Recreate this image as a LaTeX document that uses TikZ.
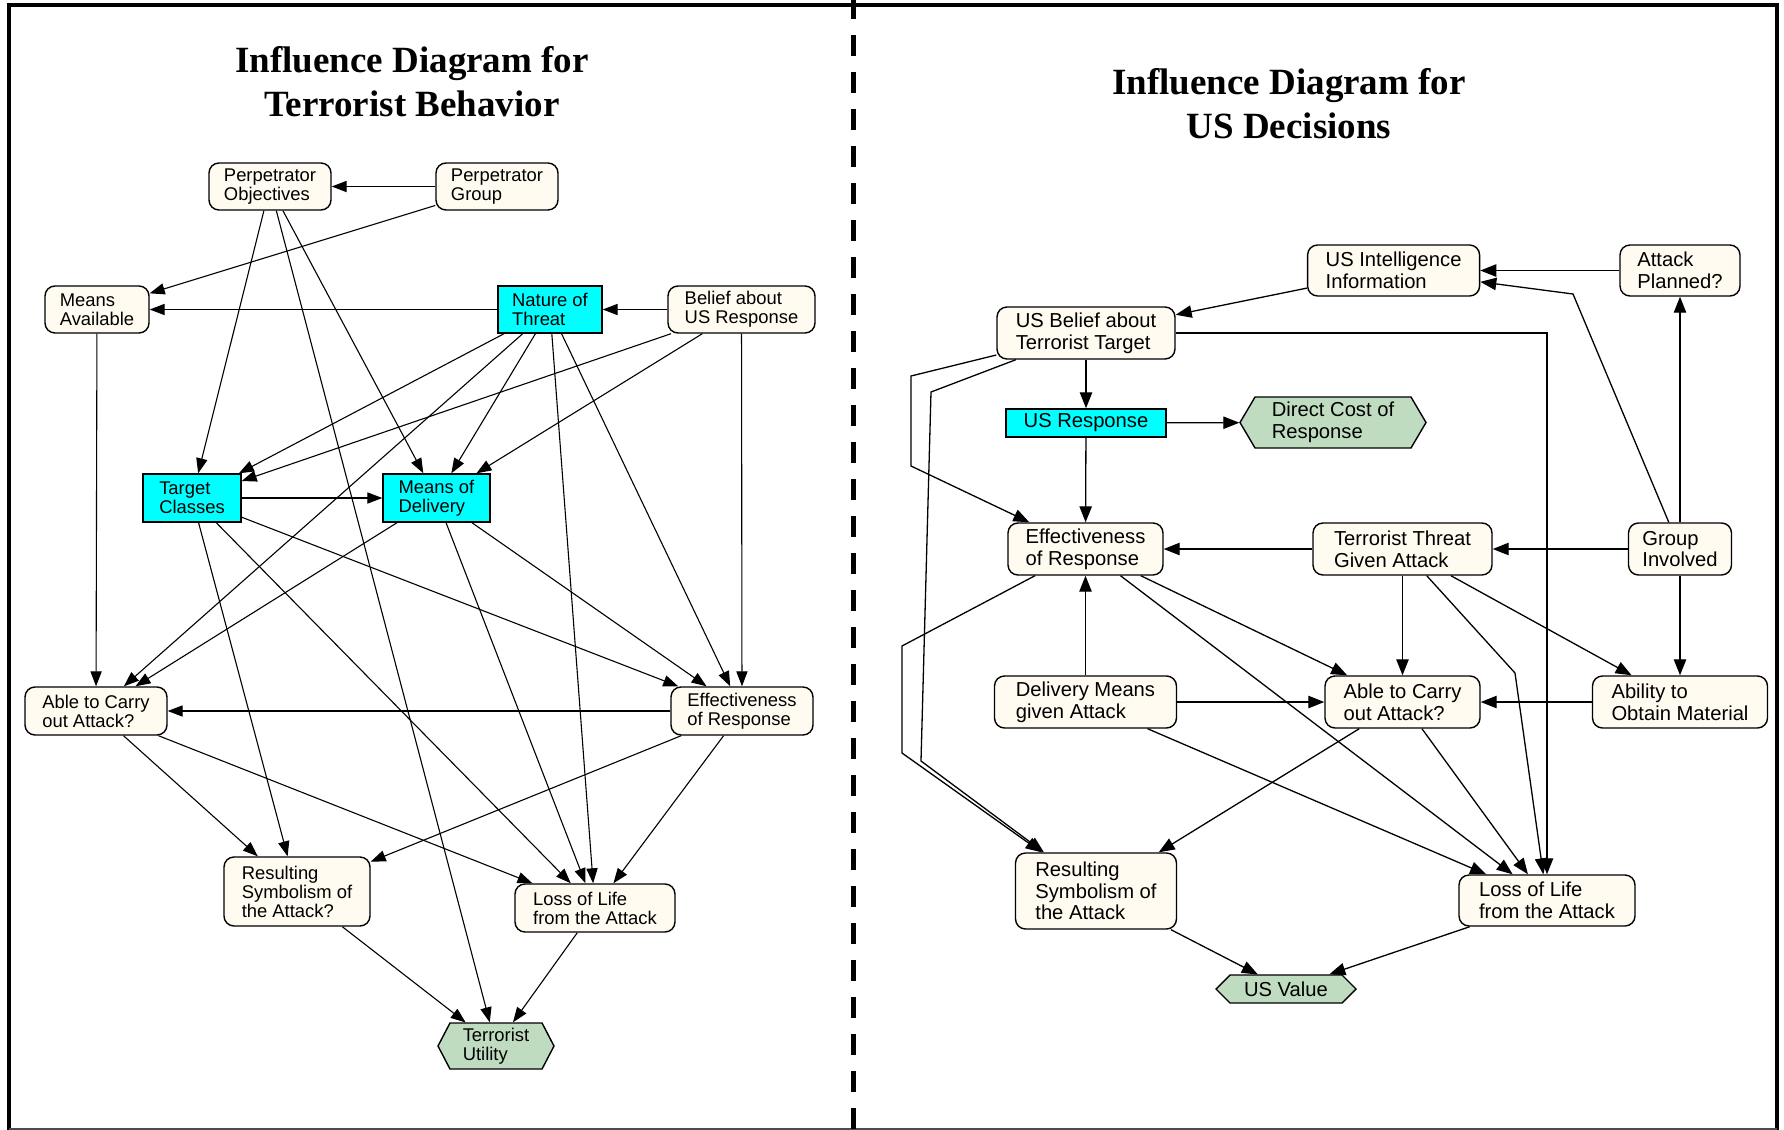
\documentclass[tikz,border=0pt]{standalone}
\usepackage{fontspec}
\setmainfont{Liberation Sans}
\newfontfamily\titlefont{Liberation Serif}
\usetikzlibrary{arrows.meta,shapes.symbols}
\definecolor{cream}{RGB}{255,251,240}
\definecolor{valgreen}{RGB}{192,220,192}
\definecolor{deccyan}{RGB}{0,255,255}

\begin{document}
\begin{tikzpicture}[x=0.5pt,y=-0.5pt,
  chance/.style={draw,rounded corners=5pt,fill=cream,align=left,line width=0.7pt,inner sep=0pt},
  decision/.style={draw,fill=deccyan,align=left,line width=0.7pt,inner sep=0pt},
  value/.style={draw,shape=signal,signal to=east and west,fill=valgreen,align=left,line width=0.7pt,inner sep=0pt},
  lfont/.style={font=\fontsize{9.2}{9.5}\selectfont},
  rfont/.style={font=\fontsize{10.1}{10.8}\selectfont},
  arr/.style={-{Triangle[length=7.5pt,width=5.6pt]},line width=0.55pt},
  rarr/.style={-{Triangle[length=8pt,width=6.2pt]},line width=0.65pt},
  title/.style={font=\titlefont\bfseries\fontsize{18.5}{22}\selectfont,align=center}]
\useasboundingbox (0,0) rectangle (1784,1130);
\fill[white] (0,0) rectangle (1784,1130);
\draw[line width=2.2pt] (9,1131) -- (9,5) -- (1777,5) -- (1777,1131);
\draw[line width=1pt,gray!60!black] (9,1128.5) -- (1777,1128.5);
\draw[line width=2.5pt,dash pattern=on 10.5pt off 8pt] (853,-2) -- (853,1130);

\node[title] (t1) at (412,81.5) {Influence Diagram for\\Terrorist Behavior};
\node[title] (t2) at (1289,104) {Influence Diagram for\\US Decisions};

\begin{scope}[lfont]
\node[chance,minimum width=61pt,minimum height=23.5pt] (po) at (270,186.5) {Perpetrator\\Objectives};
\node[chance,minimum width=61pt,minimum height=23.5pt] (pg) at (497,186.5) {Perpetrator\\Group};
\node[chance,minimum width=52pt,minimum height=23.5pt] (ma) at (97,309.5) {Means\\Available};
\node[decision,minimum width=52pt,minimum height=23.5pt] (nt) at (550,309.5) {Nature of\\Threat};
\node[chance,minimum width=73.5pt,minimum height=23.5pt] (br) at (741.5,309.5) {Belief about\\US Response};
\node[decision,minimum width=49pt,minimum height=24pt] (tc) at (192,498) {Target\\Classes};
\node[decision,minimum width=53.5pt,minimum height=24pt] (md) at (436.5,498) {Means of\\Delivery};
\node[chance,minimum width=71pt,minimum height=24pt] (ac) at (96,711) {Able to Carry\\out Attack?};
\node[chance,minimum width=71pt,minimum height=24pt] (er) at (742,711) {Effectiveness\\of Response};
\node[chance,minimum width=73pt,minimum height=34.5pt] (rs) at (297,891.5) {Resulting\\Symbolism of\\the Attack?};
\node[chance,minimum width=80pt,minimum height=24pt] (ll) at (595,908) {Loss of Life\\from the Attack};
\node[value,minimum width=58pt,minimum height=23pt,signal pointer angle=125] (tu) at (496,1046) {Terrorist\\Utility};
\end{scope}

\draw[arr] (pg) -- (po);
\draw[arr] (pg) -- (ma);
\draw[arr] (nt) -- (ma);
\draw[arr] (br) -- (nt);
\draw[arr] (po) -- (tc);
\draw[arr] (po) -- (md);
\draw[arr] (po) -- (tu);
\draw[arr] (nt) -- (tc);
\draw[arr] (nt) -- (md);
\draw[arr] (nt) -- (ac);
\draw[arr] (nt) -- (ll);
\draw[arr] (nt) -- (er);
\draw[arr] (br) -- (tc);
\draw[arr] (br) -- (md);
\draw[arr] (br) -- (er);
\draw[arr] (ma) -- (ac);
\draw[arr] (tc) -- (md);
\draw[arr] (tc) -- (er);
\draw[arr] (tc) -- (rs);
\draw[arr] (tc) -- (ll);
\draw[arr] (md) -- (ac);
\draw[arr] (md) -- (ll);
\draw[arr] (md) -- (er);
\draw[arr] (er) -- (ac);
\draw[arr] (ac) -- (rs);
\draw[arr] (ac) -- (ll);
\draw[arr] (er) -- (rs);
\draw[arr] (er) -- (ll);
\draw[arr] (rs) -- (tu);
\draw[arr] (ll) -- (tu);

\begin{scope}[rfont]
\node[chance,minimum width=86pt,minimum height=25.5pt] (ui) at (1393.6,270.5) {US Intelligence\\Information};
\node[chance,minimum width=60pt,minimum height=25.5pt] (ap) at (1680,270.5) {Attack\\Planned?};
\node[chance,minimum width=89pt,minimum height=26pt] (ub) at (1086,333) {US Belief about\\Terrorist Target};
\node[decision,minimum width=80pt,minimum height=14pt] (us) at (1086,423) {US Response};
\node[value,minimum width=93pt,minimum height=25.5pt,signal pointer angle=119] (dc) at (1333,422.5) {Direct Cost of\\Response};
\node[chance,minimum width=77.5pt,minimum height=26pt] (er2) at (1085.5,549) {Effectiveness\\of Response};
\node[chance,minimum width=89.5pt,minimum height=26pt] (tt) at (1402.5,549) {Terrorist Threat\\Given Attack};
\node[chance,minimum width=51.5pt,minimum height=26pt] (gi) at (1680,549) {Group\\Involved};
\node[chance,minimum width=91pt,minimum height=26pt] (dm) at (1085.5,702) {Delivery Means\\given Attack};
\node[chance,minimum width=77.5pt,minimum height=26pt] (ac2) at (1402.5,702) {Able to Carry\\out Attack?};
\node[chance,minimum width=87.5pt,minimum height=26pt] (ao) at (1680,702) {Ability to\\Obtain Material};
\node[chance,minimum width=80.5pt,minimum height=38pt] (rs2) at (1096,891) {Resulting\\Symbolism of\\the Attack};
\node[chance,minimum width=88pt,minimum height=25.5pt] (ll2) at (1547,900.5) {Loss of Life\\from the Attack};
\node[value,minimum width=70pt,minimum height=14pt,signal pointer angle=90] (uv) at (1286,989) {US Value};
\end{scope}

\draw[rarr] (ap) -- (ui);
\draw[rarr] (gi) -- (1573,294) -- (ui);
\draw[rarr] (gi) -- (ap);
\draw[rarr] (ui) -- (ub);
\draw[rarr] (ub) -| (ll2);
\draw[rarr] (ub) -- (us);
\draw[rarr] (us) -- (dc);
\draw[rarr] (us) -- (er2);
\draw[rarr] (ub) -- (911,376) -- (911,466) -- (er2);
\draw[rarr] (ub) -- (931,392) -- (921,761) -- (rs2);
\draw[rarr] (er2) -- (902,646) -- (902,753) -- (rs2);
\draw[rarr] (tt) -- (er2);
\draw[rarr] (gi) -- (tt);
\draw[rarr] (gi) -- (ao);
\draw[rarr] (tt) -- (ac2);
\draw[rarr] (tt) -- (ao);
\draw[rarr] (tt) -- (1515,673) -- (ll2);
\draw[rarr] (er2) -- (ac2);
\draw[rarr] (er2) -- (ll2);
\draw[rarr] (dm) -- (er2);
\draw[rarr] (dm) -- (ac2);
\draw[rarr] (ao) -- (ac2);
\draw[rarr] (dm) -- (ll2);
\draw[rarr] (ac2) -- (rs2);
\draw[rarr] (ac2) -- (ll2);
\draw[rarr] (rs2) -- (uv);
\draw[rarr] (ll2) -- (uv);
\end{tikzpicture}
\end{document}
